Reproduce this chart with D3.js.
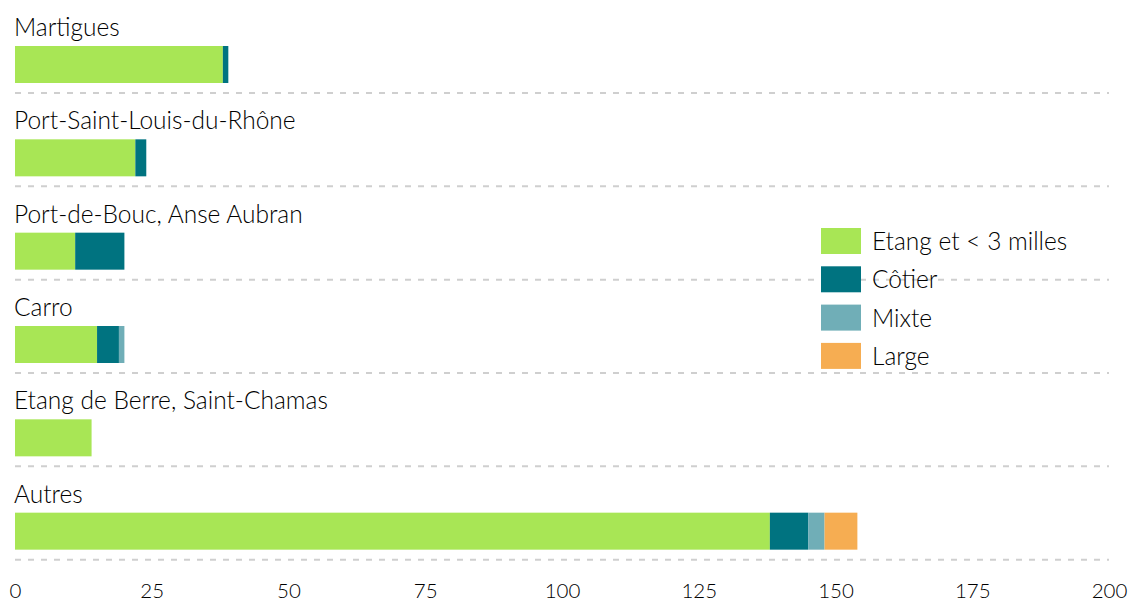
<!DOCTYPE html>
<html>
<head>
<meta charset="utf-8">
<script src="https://cdn.jsdelivr.net/npm/d3@7"></script>
<style>
    body { margin: 0; background: #fff; }
    svg { display: block; font-family: 'Lato', 'Open Sans', sans-serif; }
</style>
</head>
<body>
<div id="chart"></div>
<script>
// Data
const ports = [
    'Martigues',
    'Port-Saint-Louis-du-Rhône',
    'Port-de-Bouc, Anse Aubran',
    'Carro',
    'Etang de Berre, Saint-Chamas',
    'Autres'
];
const categories = ['Etang et < 3 milles', 'Côtier', 'Mixte', 'Large'];
const etang = [38, 22, 11, 15, 14, 138];
const cotier = [1, 2, 9, 4, 0, 7];
const mixte = [0, 0, 0, 1, 0, 3];
const large = [0, 0, 0, 0, 0, 6];
const xTicks = [0, 25, 50, 75, 100, 125, 150, 175, 200];

const colors = ['#a8e655', '#007380', '#70aeb7', '#f6ad52'];

const width = 1130, height = 603;

const rows = ports.map((p, i) => ({
    port: p,
    'Etang et < 3 milles': etang[i],
    'Côtier': cotier[i],
    'Mixte': mixte[i],
    'Large': large[i]
}));

const svg = d3.select('#chart')
    .append('svg')
    .attr('width', width)
    .attr('height', height);

const x = d3.scaleLinear().domain([0, 200]).range([15, 1109]);
const y = d3.scaleBand().domain(ports).range([0, 560]);
const color = d3.scaleOrdinal().domain(categories).range(colors);

const series = d3.stack().keys(categories)(rows);

// dashed separators
svg.append('g')
    .selectAll('line')
    .data(ports)
    .join('line')
    .attr('x1', x(0))
    .attr('x2', x(200))
    .attr('y1', d => y(d) + 93)
    .attr('y2', d => y(d) + 93)
    .attr('stroke', '#cfcfcf')
    .attr('stroke-width', 2)
    .attr('stroke-dasharray', '6,7');

// row labels
svg.append('g')
    .selectAll('text')
    .data(ports)
    .join('text')
    .attr('x', x(0) - 1)
    .attr('y', d => y(d) + 36)
    .attr('fill', '#000')
    .style('font-size', '24.5px')
    .style('font-weight', 300)
    .text(d => d);

// bars
svg.append('g')
    .selectAll('g')
    .data(series)
    .join('g')
    .attr('fill', d => color(d.key))
    .selectAll('rect')
    .data(d => d.filter(s => s[1] > s[0]))
    .join('rect')
    .attr('x', d => x(d[0]))
    .attr('width', d => x(d[1]) - x(d[0]))
    .attr('y', d => y(d.data.port) + 46)
    .attr('height', 37);

// x axis
const axis = svg.append('g')
    .attr('transform', 'translate(0,598)')
    .call(d3.axisBottom(x).tickValues(xTicks).tickSize(0).tickPadding(0));
axis.select('.domain').remove();
axis.selectAll('text')
    .attr('y', 0)
    .attr('dy', 0)
    .attr('fill', '#000')
    .style('font-size', '20.5px')
    .style('font-weight', 300)
    .style('font-family', "'Lato', 'Open Sans', sans-serif");

// legend
const legend = svg.append('g')
    .attr('transform', 'translate(821,228)');
const item = legend.selectAll('g')
    .data(categories)
    .join('g')
    .attr('transform', (d, i) => `translate(0,${i * 38.3})`);
item.append('rect')
    .attr('width', 40)
    .attr('height', 26)
    .attr('fill', d => color(d));
item.append('text')
    .attr('x', 51)
    .attr('y', 22)
    .attr('fill', '#000')
    .style('font-size', '24.5px')
    .style('font-weight', 300)
    .text(d => d);
</script>
</body>
</html>
